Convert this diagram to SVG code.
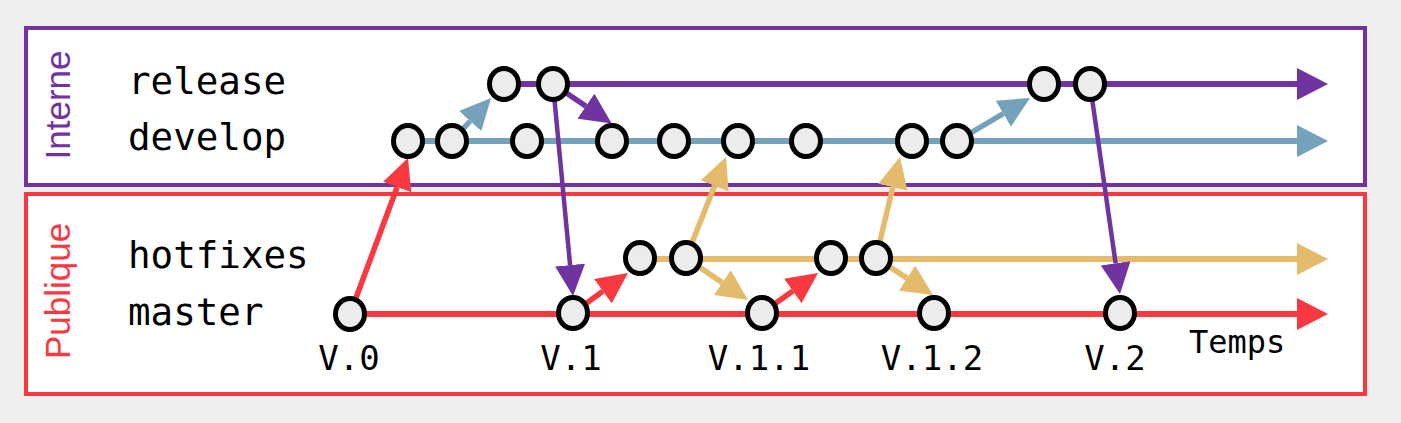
<svg xmlns="http://www.w3.org/2000/svg" width="1401" height="423" viewBox="0 0 1401 423">
<style>
.lbl{font-family:"DejaVu Sans Mono","Liberation Mono",monospace;font-size:37.5px;fill:#000}
.ver{font-family:"DejaVu Sans Mono","Liberation Mono",monospace;font-size:34px;fill:#000;text-anchor:middle}
.tmp{font-family:"DejaVu Sans Mono","Liberation Mono",monospace;font-size:32px;fill:#000}
.zone{font-family:"Liberation Sans",Arial,sans-serif;font-size:35px;text-anchor:middle}
.node{fill:#ececec;stroke:#000;stroke-width:5}
.pur{stroke:#7033a0;fill:none}
.blu{stroke:#74a2ba;fill:none}
.tan{stroke:#e3bb6b;fill:none}
.red{stroke:#f9383f;fill:none}
.main{stroke-width:6}
.diag{stroke-width:5.5}
.long{stroke-width:4.5}
</style>
<defs>
<marker id="hP" markerUnits="userSpaceOnUse" markerWidth="31" markerHeight="32" refX="0" refY="16" orient="auto" viewBox="0 0 31 32"><path d="M0,0 L31,16 L0,32 z" fill="#7033a0"/></marker>
<marker id="hB" markerUnits="userSpaceOnUse" markerWidth="31" markerHeight="32" refX="0" refY="16" orient="auto" viewBox="0 0 31 32"><path d="M0,0 L31,16 L0,32 z" fill="#74a2ba"/></marker>
<marker id="hT" markerUnits="userSpaceOnUse" markerWidth="31" markerHeight="32" refX="0" refY="16" orient="auto" viewBox="0 0 31 32"><path d="M0,0 L31,16 L0,32 z" fill="#e3bb6b"/></marker>
<marker id="hR" markerUnits="userSpaceOnUse" markerWidth="31" markerHeight="32" refX="0" refY="16" orient="auto" viewBox="0 0 31 32"><path d="M0,0 L31,16 L0,32 z" fill="#f9383f"/></marker>
<marker id="dP" markerUnits="userSpaceOnUse" markerWidth="31" markerHeight="30" refX="0" refY="15" orient="auto" viewBox="0 0 31 30"><path d="M0,0 L31,15 L0,30 z" fill="#7033a0"/></marker>
<marker id="dB" markerUnits="userSpaceOnUse" markerWidth="31" markerHeight="30" refX="0" refY="15" orient="auto" viewBox="0 0 31 30"><path d="M0,0 L31,15 L0,30 z" fill="#74a2ba"/></marker>
<marker id="dT" markerUnits="userSpaceOnUse" markerWidth="31" markerHeight="30" refX="0" refY="15" orient="auto" viewBox="0 0 31 30"><path d="M0,0 L31,15 L0,30 z" fill="#e3bb6b"/></marker>
<marker id="dR" markerUnits="userSpaceOnUse" markerWidth="31" markerHeight="30" refX="0" refY="15" orient="auto" viewBox="0 0 31 30"><path d="M0,0 L31,15 L0,30 z" fill="#f9383f"/></marker>
</defs>
<rect x="0" y="0" width="1401" height="423" fill="#eeeeee"/>
<g id="zone-interne">
<rect x="26" y="28" width="1339" height="157" fill="#ffffff" stroke="#7033a0" stroke-width="4"/>
<text class="zone" fill="#7033a0" transform="translate(70,105) rotate(-90)">Interne</text>
</g>
<g id="zone-publique">
<rect x="26" y="194" width="1339" height="200" fill="#ffffff" stroke="#f9383f" stroke-width="4"/>
<text class="zone" fill="#f9383f" transform="translate(70,291) rotate(-90)">Publique</text>
</g>
<g id="labels">
<text class="lbl" x="128" y="94">release</text>
<text class="lbl" x="128" y="150">develop</text>
<text class="lbl" x="128" y="268">hotfixes</text>
<text class="lbl" x="128" y="325">master</text>
<text class="ver" x="349" y="370">V.0</text>
<text class="ver" x="571" y="370">V.1</text>
<text class="ver" x="759" y="370">V.1.1</text>
<text class="ver" x="932" y="370">V.1.2</text>
<text class="ver" x="1115" y="370">V.2</text>
<text class="tmp" x="1189" y="353">Temps</text>
</g>
<g id="connectors">
<line class="pur main" x1="504" y1="84" x2="1297" y2="84" marker-end="url(#hP)"/>
<line class="blu main" x1="408" y1="141" x2="1297" y2="141" marker-end="url(#hB)"/>
<line class="tan main" x1="640" y1="259" x2="1297" y2="259" marker-end="url(#hT)"/>
<line class="red main" x1="350" y1="314" x2="1297" y2="314" marker-end="url(#hR)"/>
<line class="red diag" x1="350" y1="314" x2="397.2" y2="187" marker-end="url(#dR)"/>
<line class="blu diag" x1="452" y1="141" x2="470.2" y2="121" marker-end="url(#dB)"/>
<line class="pur diag" x1="553" y1="84" x2="586" y2="106.2" marker-end="url(#dP)"/>
<line class="pur long" x1="553" y1="84" x2="570.1" y2="265.1" marker-end="url(#dP)"/>
<line class="red diag" x1="573" y1="313" x2="602.9" y2="291.2" marker-end="url(#dR)"/>
<line class="tan diag" x1="686" y1="258" x2="714.6" y2="185.8" marker-end="url(#dT)"/>
<line class="tan diag" x1="686" y1="258" x2="722.3" y2="282.6" marker-end="url(#dT)"/>
<line class="red diag" x1="762" y1="313" x2="792.8" y2="291" marker-end="url(#dR)"/>
<line class="tan diag" x1="876" y1="258" x2="892.8" y2="187.2" marker-end="url(#dT)"/>
<line class="tan diag" x1="876" y1="258" x2="907" y2="278.1" marker-end="url(#dT)"/>
<line class="blu diag" x1="957" y1="141" x2="1003.3" y2="113.7" marker-end="url(#dB)"/>
<line class="pur long" x1="1090" y1="84" x2="1115.6" y2="263.3" marker-end="url(#dP)"/>
</g>
<g id="n-release"><ellipse class="node" cx="504" cy="84" rx="14.5" ry="15.5"/><ellipse class="node" cx="553" cy="84" rx="14.5" ry="15.5"/><ellipse class="node" cx="1044" cy="84" rx="14.5" ry="15.5"/><ellipse class="node" cx="1090" cy="84" rx="14.5" ry="15.5"/></g>
<g id="n-develop"><ellipse class="node" cx="408" cy="141" rx="14.5" ry="15.5"/><ellipse class="node" cx="452" cy="141" rx="14.5" ry="15.5"/><ellipse class="node" cx="527" cy="141" rx="14.5" ry="15.5"/><ellipse class="node" cx="612" cy="141" rx="14.5" ry="15.5"/><ellipse class="node" cx="674" cy="141" rx="14.5" ry="15.5"/><ellipse class="node" cx="738" cy="141" rx="14.5" ry="15.5"/><ellipse class="node" cx="806" cy="141" rx="14.5" ry="15.5"/><ellipse class="node" cx="912" cy="141" rx="14.5" ry="15.5"/><ellipse class="node" cx="957" cy="141" rx="14.5" ry="15.5"/></g>
<g id="n-hotfixes"><ellipse class="node" cx="640" cy="258" rx="14.5" ry="15.5"/><ellipse class="node" cx="686" cy="258" rx="14.5" ry="15.5"/><ellipse class="node" cx="831" cy="258" rx="14.5" ry="15.5"/><ellipse class="node" cx="876" cy="258" rx="14.5" ry="15.5"/></g>
<g id="n-master"><ellipse class="node" cx="350" cy="314" rx="14.5" ry="15.5"/><ellipse class="node" cx="573" cy="313" rx="14.5" ry="15.5"/><ellipse class="node" cx="762" cy="313" rx="14.5" ry="15.5"/><ellipse class="node" cx="934" cy="313" rx="14.5" ry="15.5"/><ellipse class="node" cx="1120" cy="313" rx="14.5" ry="15.5"/></g>
</svg>
